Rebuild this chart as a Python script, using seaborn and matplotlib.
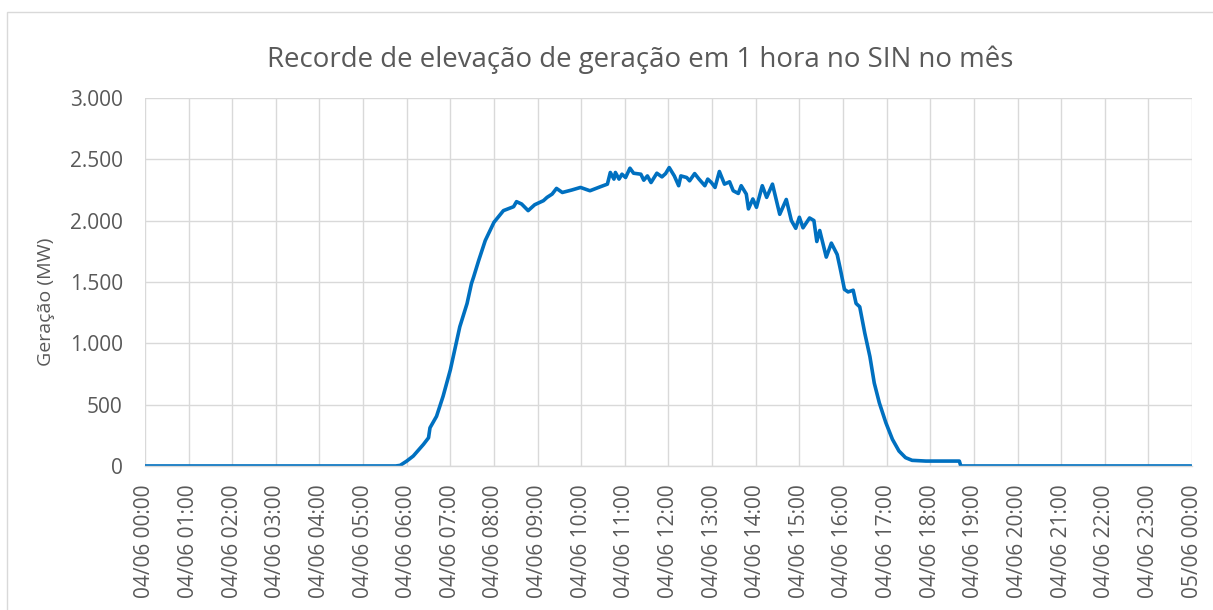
import pandas as pd
import matplotlib
matplotlib.use("Agg")
import matplotlib.pyplot as plt
import matplotlib.dates as mdates
from matplotlib.ticker import FuncFormatter, MultipleLocator
from matplotlib.patches import Rectangle
import seaborn as sns

# Data (time of day on 04/06, generation in MW)
times = ["00:00", "05:45", "05:51", "06:00", "06:09", "06:23", "06:30", "06:32",
         "06:41", "06:50", "07:00", "07:07", "07:13", "07:23", "07:29", "07:32",
         "07:39", "07:48", "08:00", "08:13", "08:27", "08:31", "08:38", "08:47",
         "08:56", "09:08", "09:13", "09:20", "09:26", "09:34", "09:47", "09:59",
         "10:12", "10:26", "10:36", "10:40", "10:45", "10:47", "10:52", "10:56",
         "11:01", "11:07", "11:12", "11:22", "11:26", "11:31", "11:36", "11:44",
         "11:51", "11:56", "12:01", "12:08", "12:14", "12:17", "12:25", "12:29",
         "12:36", "12:42", "12:50", "12:54", "12:59", "13:04", "13:10", "13:17",
         "13:24", "13:29", "13:36", "13:40", "13:47", "13:50", "13:56", "14:01",
         "14:09", "14:15", "14:23", "14:33", "14:42", "14:49", "14:55", "15:00",
         "15:05", "15:14", "15:20", "15:24", "15:28", "15:37", "15:44", "15:52",
         "15:56", "16:02", "16:07", "16:14", "16:18", "16:23", "16:30", "16:37",
         "16:43", "16:50", "16:59", "17:08", "17:17", "17:26", "17:35", "17:54",
         "18:40", "18:42", "23:59"]
geracao = [0, 0, 5, 40, 81, 176, 230, 311,
           405, 568, 784, 973, 1135, 1325, 1487, 1541,
           1676, 1838, 1987, 2082, 2114, 2155, 2136, 2082,
           2130, 2163, 2190, 2217, 2263, 2230, 2250, 2271,
           2244, 2276, 2298, 2393, 2339, 2393, 2339, 2379,
           2352, 2428, 2387, 2379, 2330, 2365, 2311, 2387,
           2357, 2384, 2433, 2365, 2285, 2365, 2352, 2325,
           2384, 2339, 2285, 2339, 2311, 2271, 2401, 2298,
           2317, 2244, 2222, 2285, 2217, 2096, 2177, 2109,
           2285, 2190, 2298, 2052, 2173, 2001, 1938, 2028,
           1942, 2022, 2001, 1830, 1920, 1703, 1817, 1724,
           1615, 1440, 1419, 1433, 1325, 1298, 1082, 892,
           676, 514, 352, 217, 122, 68, 46, 40,
           40, 0, 0]

dia = "2023-06-04"
df = pd.DataFrame({"hora": pd.to_datetime([dia + " " + t for t in times]),
                   "geracao": geracao})

sns.set_style("white")
plt.rcParams["font.family"] = ["Open Sans", "DejaVu Sans"]
texto = "#595959"
grade = "#D9D9D9"

fig = plt.figure(figsize=(12.13, 6.10), dpi=100)
ax = fig.add_axes([0.1195, 0.2361, 0.8632, 0.6032])

# Outer chart border
fig.patches.append(Rectangle((0.0058, -0.1), 1.2, 1.08, transform=fig.transFigure,
                             fill=False, edgecolor=grade, linewidth=1.0))

sns.lineplot(data=df, x="hora", y="geracao", ax=ax, color="#0070C0", linewidth=2.6)

ax.set_xlim(pd.Timestamp(dia), pd.Timestamp(dia) + pd.Timedelta(days=1))
ax.set_ylim(0, 3000)
ax.yaxis.set_major_locator(MultipleLocator(500))
ax.yaxis.set_major_formatter(FuncFormatter(lambda v, p: f"{v:,.0f}".replace(",", ".")))
ax.xaxis.set_major_locator(mdates.HourLocator(interval=1))
ax.xaxis.set_major_formatter(mdates.DateFormatter("%d/%m %H:%M"))

ax.grid(True, color=grade, linewidth=1.0)
ax.set_axisbelow(True)
for s in ["top", "right", "left"]:
    ax.spines[s].set_visible(False)
ax.spines["bottom"].set_color(grade)
ax.spines["bottom"].set_linewidth(1.0)

ax.tick_params(axis="y", length=0, pad=16, labelsize=15, labelcolor=texto)
ax.tick_params(axis="x", length=0, pad=13, labelsize=15, labelcolor=texto, rotation=90)

ax.set_xlabel("")
ax.set_ylabel("Geração (MW)", fontsize=14, color=texto)
ax.yaxis.set_label_coords(-0.086, 0.446)

fig.text(0.5276, 0.890, "Recorde de elevação de geração em 1 hora no SIN no mês",
         ha="center", va="baseline", fontsize=19.9, color=texto)

fig.savefig("out.png", dpi=100)
